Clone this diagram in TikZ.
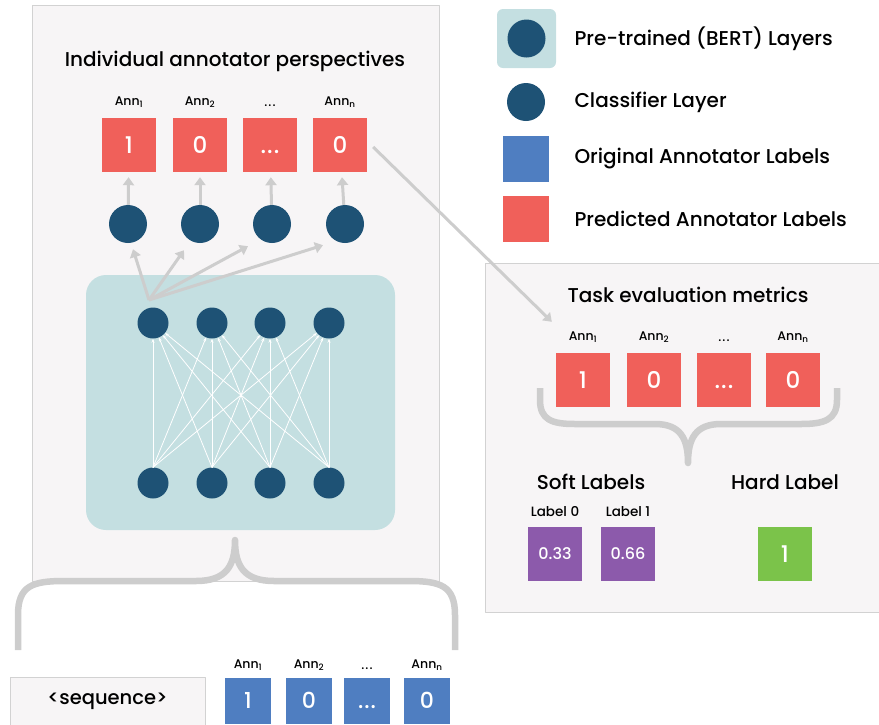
\documentclass[tikz,border=0pt]{standalone}
\usepackage{fontspec}
\setmainfont{Poppins}[UprightFont=* Medium]
\usetikzlibrary{arrows.meta}
\definecolor{predred}{HTML}{F0605A}
\definecolor{origblue}{HTML}{4F7EC1}
\definecolor{navy}{HTML}{1E5275}
\definecolor{bertteal}{HTML}{C4DFE1}
\definecolor{softpurple}{HTML}{8C5AAB}
\definecolor{hardgreen}{HTML}{7BC34A}
\definecolor{panelfill}{HTML}{F7F5F6}
\definecolor{panelline}{HTML}{D2D2D2}
\definecolor{linkgray}{HTML}{CDCDCD}

\begin{document}
\begin{tikzpicture}[line cap=round,line join=round,>={Triangle},x=1pt,y=-1pt,
  neuron/.style={circle,fill=navy,inner sep=0pt,minimum size=#1},
  labelbox/.style={rectangle,fill=#1,text=white,inner sep=0pt,minimum size=54pt,font=\fontsize{23}{26}\selectfont},
  origbox/.style={rectangle,fill=origblue,text=white,inner sep=0pt,minimum size=46pt,font=\fontsize{22}{25}\selectfont},
  annlabel/.style={font=\fontsize{12.5}{14}\selectfont},
  heading/.style={font=\fontsize{20}{23}\selectfont},
  legendtext/.style={anchor=west,font=\fontsize{20}{23}\selectfont},
  graylink/.style={draw=linkgray,line width=3pt,line cap=butt,-{Triangle[length=8pt,width=11pt]}},
  weightlink/.style={draw=white,line width=0.8pt,-{Stealth[length=4pt,width=3pt]}},
  bracegray/.style={draw=linkgray,line width=6.5pt,line cap=butt}]
\useasboundingbox (0,0) rectangle (879,724);
\clip (0,0) rectangle (879,724);
% left panel
\draw[panelline,fill=panelfill] (32,5) rectangle (439,581);
\node[heading] (lefttitle) at (235,61) {Individual annotator perspectives};
\node[fill=bertteal,rounded corners=20pt,minimum width=309pt,minimum height=255pt] (bert) at (240.5,402.5) {};
\foreach \x [count=\i] in {153,212,270,329} {
  \node[neuron=31pt] (t\i) at (\x,323) {};
  \node[neuron=31pt] (b\i) at (\x,483) {};
}
\foreach \i in {1,...,4}
  \foreach \j in {1,...,4}
    \draw[weightlink] (b\i.north) -- (t\j);
\foreach \x [count=\i] in {128,200,272,345}
  \node[neuron=38pt] (c\i) at (\x,224) {};
\foreach \x/\v/\a [count=\i] in {129/1/Ann\textsubscript{1},200/0/Ann\textsubscript{2},270/{\vphantom{0}.\kern1pt.\kern1pt.}/{\vphantom{A}.\kern1pt.\kern1pt.},340/0/Ann\textsubscript{n}} {
  \node[labelbox=predred] (p\i) at (\x,145) {\v};
  \node[annlabel] (pa\i) at (\x,102) {\a};
  \draw[graylink,shorten >=5pt] (c\i) -- (p\i);
}
\coordinate (fan) at (149,300);
\foreach \i/\dx/\dy in {1/5/6,2/-16/7,3/-24/3,4/-22/2}
  \draw[graylink] (fan) -- ([xshift=\dx pt,yshift=-\dy pt]c\i.south);
% legend
\node[fill=bertteal,rounded corners=6pt,minimum size=59pt] (legbert) at (526.5,38.5) {};
\node[neuron=38pt] (legbertdot) at (legbert) {};
\node[legendtext] (legberttext) at (571,39) {Pre-trained (BERT) Layers};
\node[neuron=38pt] (legcls) at (526,102) {};
\node[legendtext] (legclstext) at (571,102) {Classifier Layer};
\node[fill=origblue,minimum size=46pt] (legorig) at (526,159) {};
\node[legendtext] (legorigtext) at (571,159) {Original Annotator Labels};
\node[fill=predred,minimum size=46pt] (legpred) at (526,219) {};
\node[legendtext] (legpredtext) at (571,219) {Predicted Annotator Labels};
% right panel
\draw[panelline,fill=panelfill] (485,263) rectangle (885,612);
\node[heading] (righttitle) at (688,295) {Task evaluation metrics};
\foreach \x/\v/\a [count=\i] in {583/1/Ann\textsubscript{1},654/0/Ann\textsubscript{2},724/{\vphantom{0}.\kern1pt.\kern1pt.}/{\vphantom{A}.\kern1pt.\kern1pt.},793/0/Ann\textsubscript{n}} {
  \node[labelbox=predred] (q\i) at (\x,380) {\v};
  \node[annlabel] (qa\i) at (\x,337) {\a};
}
\draw[graylink] ([xshift=6pt,yshift=-2pt]p4.east) -- ([xshift=-4pt,yshift=31pt]q1.north west);
\draw[bracegray] (540,388) -- (540,400) .. controls (540,420) and (552,424) .. (575,424) -- (655,424)
  .. controls (680,424) and (688,438) .. (688,463) .. controls (688,438) and (696,424) .. (721,424)
  -- (801,424) .. controls (824,424) and (837,420) .. (837,400) -- (837,388);
\node[heading] (softtitle) at (591,482) {Soft Labels};
\node[heading] (hardtitle) at (785,482) {Hard Label};
\node[annlabel,font=\fontsize{13.5}{15}\selectfont] (s1label) at (555,512) {Label 0};
\node[annlabel,font=\fontsize{13.5}{15}\selectfont] (s2label) at (628,512) {Label 1};
\node[labelbox=softpurple,font=\fontsize{16}{18}\selectfont] (s1) at (555,554) {0.33};
\node[labelbox=softpurple,font=\fontsize{16}{18}\selectfont] (s2) at (628,554) {0.66};
\node[labelbox=hardgreen] (hard) at (785,554) {1};
% input
\draw[bracegray] (18,650) -- (18,615) .. controls (18,586) and (32,581) .. (64,581) -- (196,581)
  .. controls (226,581) and (235,566) .. (235,540) .. controls (235,566) and (244,581) .. (274,581)
  -- (409,581) .. controls (441,581) and (455,586) .. (455,615) -- (455,650);
\node[draw=panelline,fill=panelfill,minimum width=195pt,minimum height=48pt,font=\fontsize{19.5}{22}\selectfont] (seq) at (107.5,701) {<sequence>};
\foreach \x/\v/\a [count=\i] in {248/1/Ann\textsubscript{1},309/0/Ann\textsubscript{2},367/{\vphantom{0}.\kern1pt.\kern1pt.}/{\vphantom{A}.\kern1pt.\kern1pt.},427/0/Ann\textsubscript{n}} {
  \node[origbox] (o\i) at (\x,700.5) {\v};
  \node[annlabel] (oa\i) at (\x,665) {\a};
}
\end{tikzpicture}
\end{document}
